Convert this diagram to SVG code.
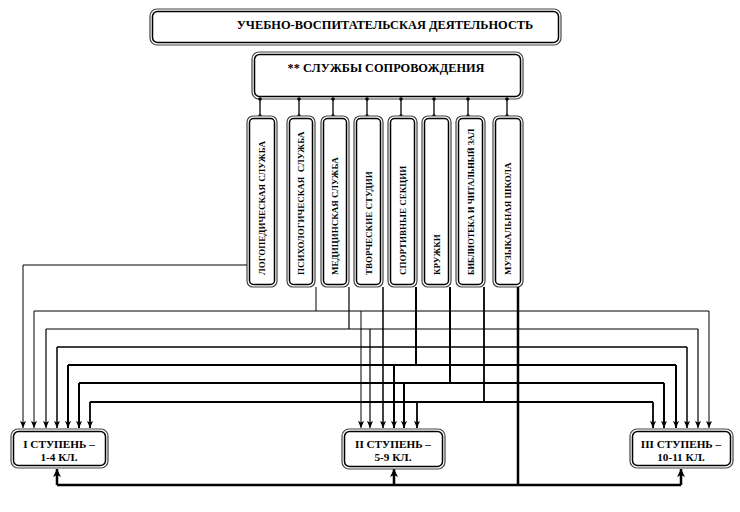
<svg xmlns="http://www.w3.org/2000/svg" width="740" height="512" viewBox="0 0 740 512">
<defs>
<marker id="ah" markerUnits="userSpaceOnUse" markerWidth="8" markerHeight="8" refX="7" refY="3" orient="auto">
<path d="M0,0 L7,3 L0,6 L1.5,3 z" fill="#000"/>
</marker>
<marker id="ahb" markerUnits="userSpaceOnUse" markerWidth="10" markerHeight="10" refX="8" refY="4" orient="auto">
<path d="M0,0 L8,4 L0,8 L2,4 z" fill="#000"/>
</marker>
</defs>
<style>
.o{fill:#fff;stroke:#444;stroke-width:1.2}
.i{fill:none;stroke:#000;stroke-width:1.5}
.t{font-family:"Liberation Serif","Times New Roman",serif;font-weight:bold;fill:#000}
.c{fill:none;stroke:#000}
.d{fill:#000}
</style>
<rect width="740" height="512" fill="#fff"/>

<g id="top">
<rect class="o" x="150" y="9" width="411" height="36" rx="7"/>
<rect class="i" x="152.5" y="11.5" width="406" height="31" rx="5"/>
<text class="t" x="385" y="29" font-size="12.4" text-anchor="middle">УЧЕБНО-ВОСПИТАТЕЛЬСКАЯ ДЕЯТЕЛЬНОСТЬ</text>
</g>

<g id="services">
<rect class="o" x="252" y="52" width="271" height="47" rx="7"/>
<rect class="i" x="254.5" y="54.5" width="266" height="42" rx="5"/>
<text class="t" x="386" y="72" font-size="12.3" text-anchor="middle">** СЛУЖБЫ СОПРОВОЖДЕНИЯ</text>
</g>

<g id="ticks">
<path class="c" stroke-width="1.3" d="M260,99V116M299,99V116M333,99V116M367,99V116M401,99V116M434,99V116M468,99V116M507,99V116"/>
<g class="d">
<circle cx="260" cy="99" r="1.8"/><circle cx="299" cy="99" r="1.8"/><circle cx="333" cy="99" r="1.8"/><circle cx="367" cy="99" r="1.8"/><circle cx="401" cy="99" r="1.8"/><circle cx="434" cy="99" r="1.8"/><circle cx="468" cy="99" r="1.8"/><circle cx="507" cy="99" r="1.8"/>
<circle cx="260" cy="116" r="1.8"/><circle cx="299" cy="116" r="1.8"/><circle cx="333" cy="116" r="1.8"/><circle cx="367" cy="116" r="1.8"/><circle cx="401" cy="116" r="1.8"/><circle cx="434" cy="116" r="1.8"/><circle cx="468" cy="116" r="1.8"/><circle cx="507" cy="116" r="1.8"/>
</g>
</g>

<g id="s1">
<rect class="o" x="247" y="116" width="30" height="171" rx="6"/>
<rect class="i" x="249.5" y="118.5" width="25" height="166" rx="4"/>
<text class="t" font-size="9" transform="translate(265,275) rotate(-90)">ЛОГОПЕДИЧЕСКАЯ СЛУЖБА</text>
</g>
<g id="s2">
<rect class="o" x="287" y="116" width="28" height="171" rx="6"/>
<rect class="i" x="289.5" y="118.5" width="23" height="166" rx="4"/>
<text class="t" font-size="9" transform="translate(304,275) rotate(-90)" xml:space="preserve">ПСИХОЛОГИЧЕСКАЯ  СЛУЖБА</text>
</g>
<g id="s3">
<rect class="o" x="321" y="116" width="28" height="171" rx="6"/>
<rect class="i" x="323.5" y="118.5" width="23" height="166" rx="4"/>
<text class="t" font-size="9" transform="translate(338,275) rotate(-90)">МЕДИЦИНСКАЯ СЛУЖБА</text>
</g>
<g id="s4">
<rect class="o" x="354" y="116" width="29" height="171" rx="6"/>
<rect class="i" x="356.5" y="118.5" width="24" height="166" rx="4"/>
<text class="t" font-size="9" transform="translate(372,275) rotate(-90)">ТВОРЧЕСКИЕ СТУДИИ</text>
</g>
<g id="s5">
<rect class="o" x="388" y="116" width="29" height="171" rx="6"/>
<rect class="i" x="390.5" y="118.5" width="24" height="166" rx="4"/>
<text class="t" font-size="9" transform="translate(406,275) rotate(-90)">СПОРТИВНЫЕ СЕКЦИИ</text>
</g>
<g id="s6">
<rect class="o" x="422" y="116" width="29" height="171" rx="6"/>
<rect class="i" x="424.5" y="118.5" width="24" height="166" rx="4"/>
<text class="t" font-size="9" transform="translate(440,275) rotate(-90)">КРУЖКИ</text>
</g>
<g id="s7">
<rect class="o" x="456" y="116" width="29" height="171" rx="6"/>
<rect class="i" x="458.5" y="118.5" width="24" height="166" rx="4"/>
<text class="t" font-size="8.4" transform="translate(474,275) rotate(-90)">БИБЛИОТЕКА И ЧИТАЛЬНЫЙ ЗАЛ</text>
</g>
<g id="s8">
<rect class="o" x="493" y="116" width="30" height="171" rx="6"/>
<rect class="i" x="495.5" y="118.5" width="25" height="166" rx="4"/>
<text class="t" font-size="9" transform="translate(511,275) rotate(-90)">МУЗЫКАЛЬНАЯ ШКОЛА</text>
</g>

<g id="connectors">
<path class="c" stroke-width="1" d="M247,265H23V428" marker-end="url(#ah)"/>
<path class="c" stroke-width="1" d="M316,287V311M34,311H709"/>
<path class="c" stroke-width="1" d="M34,311V428" marker-end="url(#ah)"/>
<path class="c" stroke-width="1" d="M361,311V428" marker-end="url(#ah)"/>
<path class="c" stroke-width="1" d="M709,311V428" marker-end="url(#ah)"/>
<path class="c" stroke-width="1.2" d="M349,287V329M46,329H698"/>
<path class="c" stroke-width="1.2" d="M46,329V428" marker-end="url(#ah)"/>
<path class="c" stroke-width="1.2" d="M370,329V428" marker-end="url(#ah)"/>
<path class="c" stroke-width="1.2" d="M698,329V428" marker-end="url(#ah)"/>
<path class="c" stroke-width="1.5" d="M57,347H687"/>
<path class="c" stroke-width="1.5" d="M383,287V428" marker-end="url(#ah)"/>
<path class="c" stroke-width="1.5" d="M57,347V428" marker-end="url(#ah)"/>
<path class="c" stroke-width="1.5" d="M687,347V428" marker-end="url(#ah)"/>
<path class="c" stroke-width="2" d="M416,287V365M68,365H676"/>
<path class="c" stroke-width="2" d="M68,365V428" marker-end="url(#ah)"/>
<path class="c" stroke-width="2" d="M394,365V428" marker-end="url(#ah)"/>
<path class="c" stroke-width="2" d="M676,365V428" marker-end="url(#ah)"/>
<path class="c" stroke-width="2" d="M450,287V383M79,383H664"/>
<path class="c" stroke-width="2" d="M79,383V428" marker-end="url(#ah)"/>
<path class="c" stroke-width="2" d="M404,383V428" marker-end="url(#ah)"/>
<path class="c" stroke-width="2" d="M664,383V428" marker-end="url(#ah)"/>
<path class="c" stroke-width="1.8" d="M484,287V402M90,402H653"/>
<path class="c" stroke-width="1.8" d="M90,402V428" marker-end="url(#ah)"/>
<path class="c" stroke-width="1.8" d="M417,402V428" marker-end="url(#ah)"/>
<path class="c" stroke-width="1.8" d="M653,402V428" marker-end="url(#ah)"/>
<path class="c" stroke-width="2.5" d="M518,287V485M57,485H681"/>
<path class="c" stroke-width="2.5" d="M57,485V469" marker-end="url(#ahb)"/>
<path class="c" stroke-width="2.5" d="M394,485V469" marker-end="url(#ahb)"/>
<path class="c" stroke-width="2.5" d="M681,485V469" marker-end="url(#ahb)"/>
</g>

<g id="level1">
<rect class="o" x="11" y="429" width="97" height="39" rx="7"/>
<rect class="i" x="13.5" y="431.5" width="92" height="34" rx="5"/>
<text class="t" x="59" y="448" font-size="11.2" text-anchor="middle">I СТУПЕНЬ –</text>
<text class="t" x="59" y="461" font-size="11.2" text-anchor="middle">1-4 КЛ.</text>
</g>
<g id="level2">
<rect class="o" x="342" y="429" width="103" height="40" rx="7"/>
<rect class="i" x="344.5" y="431.5" width="98" height="35" rx="5"/>
<text class="t" x="393" y="448" font-size="11.2" text-anchor="middle">II СТУПЕНЬ –</text>
<text class="t" x="393" y="461" font-size="11.2" text-anchor="middle">5-9 КЛ.</text>
</g>
<g id="level3">
<rect class="o" x="630" y="429" width="103" height="39" rx="7"/>
<rect class="i" x="632.5" y="431.5" width="98" height="34" rx="5"/>
<text class="t" x="681" y="448" font-size="11.2" text-anchor="middle">III СТУПЕНЬ –</text>
<text class="t" x="681" y="461" font-size="11.2" text-anchor="middle">10-11 КЛ.</text>
</g>
</svg>
